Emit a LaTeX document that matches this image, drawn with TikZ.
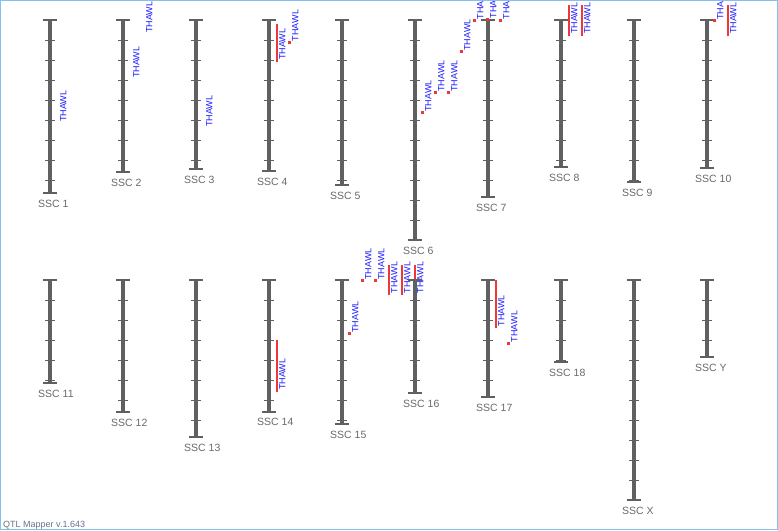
\documentclass[tikz,border=0pt]{standalone}
\usepackage{fontspec}
\setmainfont{Liberation Sans}
\definecolor{barc}{RGB}{96,96,96}
\definecolor{lblc}{RGB}{105,105,105}
\definecolor{qred}{RGB}{240,55,55}
\definecolor{qblue}{RGB}{25,25,255}
\definecolor{framec}{RGB}{135,190,235}
\definecolor{footc}{RGB}{100,115,140}
\newcommand\chrom[5]{%
  \draw[barline] (#2,#3) -- (#2,#4);
  \pgfmathtruncatemacro\nt{(#4-#3-1)/20}
  \foreach \k in {1,...,\nt} {\draw[tickline] (#2-5,#3+20*\k) -- (#2+5,#3+20*\k);}
  \draw[capline] (#2-7,#3) -- (#2+7,#3);
  \draw[capline] (#2-7,#4) -- (#2+7,#4);
  \node[chlabel] (#1) at (#2-12,#4+14) {#5};
}
\newcommand\qline[5]{%
  \pgfmathsetmacro\mx{#2+7.7+13*#3}
  \draw[qtlmark] (\mx,#4) -- (\mx,#5);
  \node[qtltext] (#1) at (\mx+2.3,#5-1.7) {THAWL};
}
\newcommand\qsq[4]{%
  \pgfmathsetmacro\mx{#2+7.7+13*#3}
  \fill[qred] (\mx-1.3,#4-1.3) rectangle (\mx+1.3,#4+1.3);
  \node[qtltext] (#1) at (\mx+2.3,#4-1) {THAWL};
}
\newcommand\qtxt[4]{%
  \pgfmathsetmacro\mx{#2+7.7+13*#3}
  \node[qtltext] (#1) at (\mx+2.3,#4) {THAWL};
}
\begin{document}
\begin{tikzpicture}[x=1pt,y=-1pt,
  barline/.style={draw=barc,line width=4pt},
  capline/.style={draw=barc,line width=1.6pt},
  tickline/.style={draw=barc,line width=1pt},
  chlabel/.style={anchor=base west,inner sep=0pt,text=lblc,font=\fontsize{10.5}{12}\selectfont},
  qtltext/.style={rotate=90,anchor=north west,inner sep=0pt,text=qblue,font=\fontsize{9}{9}\selectfont},
  qtlmark/.style={draw=qred,line width=2.2pt},
]
\useasboundingbox (0,0) rectangle (778,530);
\begin{scope}
\clip (0,0) rectangle (778,530);
% row 1
\chrom{ssc1}{50}{20}{193}{SSC 1}
\qtxt{q1a}{50}{0}{122}
\chrom{ssc2}{123}{20}{172}{SSC 2}
\qtxt{q2a}{123}{0}{78}
\qtxt{q2b}{123}{1}{33}
\chrom{ssc3}{196}{20}{169}{SSC 3}
\qtxt{q3a}{196}{0}{127}
\chrom{ssc4}{269}{20}{171}{SSC 4}
\qline{q4a}{269}{0}{24}{61.7}
\qsq{q4b}{269}{1}{42.3}
\chrom{ssc5}{342}{20}{185}{SSC 5}
\chrom{ssc6}{415}{20}{240}{SSC 6}
\chrom{ssc7}{488}{20}{197}{SSC 7}
\qsq{q6a}{415}{0}{112.7}
\qsq{q6b}{415}{1}{92.7}
\qsq{q6c}{415}{2}{92.7}
\qsq{q6d}{415}{3}{51.7}
\qsq{q6e}{415}{4}{20.3}
\qsq{q6f}{415}{5}{19.5}
\qsq{q6g}{415}{6}{20.3}
\chrom{ssc8}{561}{20}{167}{SSC 8}
\qline{q8a}{561}{0}{5}{35.7}
\qline{q8b}{561}{1}{5}{35.7}
\chrom{ssc9}{634}{20}{182}{SSC 9}
\chrom{ssc10}{707}{20}{168}{SSC 10}
\qsq{q10a}{707}{0}{20.7}
\qline{q10b}{707}{1}{5}{35.7}
% row 2
\chrom{ssc11}{50}{280}{383}{SSC 11}
\chrom{ssc12}{123}{280}{412}{SSC 12}
\chrom{ssc13}{196}{280}{437}{SSC 13}
\chrom{ssc14}{269}{280}{411.7}{SSC 14}
\qline{q14a}{269}{0}{340}{391.7}
\chrom{ssc15}{342}{280}{424}{SSC 15}
\qsq{q15a}{342}{0}{333.7}
\qsq{q15b}{342}{1}{280.7}
\qsq{q15c}{342}{2}{280.7}
\qline{q15d}{342}{3}{265}{295}
\qline{q15e}{342}{4}{265}{295}
\qline{q15f}{342}{5}{265}{295}
\chrom{ssc16}{415}{280}{393}{SSC 16}
\chrom{ssc17}{488}{280}{397}{SSC 17}
\qline{q17a}{488}{0}{280}{328.3}
\qsq{q17b}{488}{1}{343.3}
\chrom{ssc18}{561}{280}{362}{SSC 18}
\chrom{sscx}{634}{280}{500}{SSC X}
\chrom{sscy}{707}{280}{357}{SSC Y}
\node[anchor=base west,inner sep=0pt,text=footc,font=\fontsize{9}{10}\selectfont] (footer) at (3,527) {QTL Mapper v.1.643};
\end{scope}
\draw[framec,line width=1pt] (0.5,0.5) rectangle (777.5,529.5);
\end{tikzpicture}
\end{document}
